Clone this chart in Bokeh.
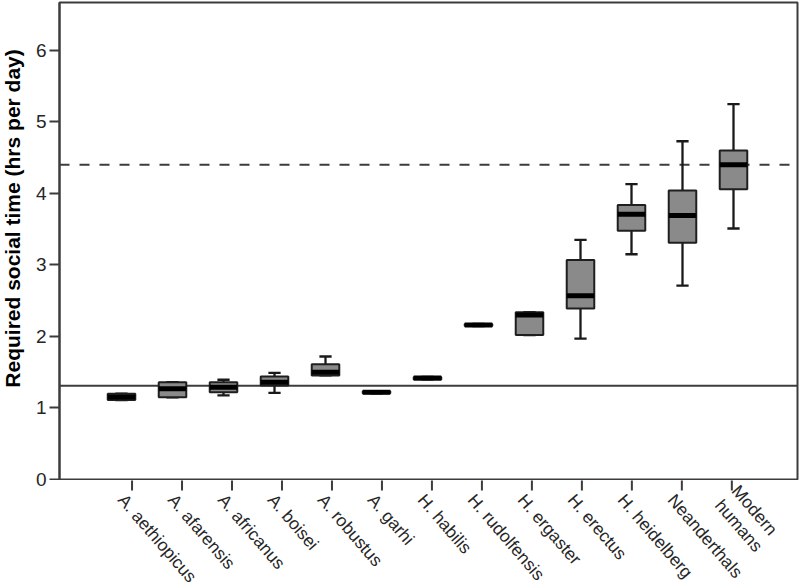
import numpy as np
from bokeh.plotting import figure
from bokeh.layouts import column, row
from bokeh.models import ColumnDataSource, FixedTicker, Span, Range1d
from bokeh.core.properties import value
from bokeh.embed import file_html
from bokeh.resources import INLINE

# ---- data ----
species = ["A. aethiopicus", "A. afarensis", "A. africanus", "A. boisei", "A. robustus",
           "A. garhi", "H. habilis", "H. rudolfensis", "H. ergaster", "H. erectus",
           "H. heidelberg", "Neanderthals", "Modern\nhumans"]
lower_whisker = [1.11, 1.15, 1.175, 1.21, 1.455, 1.205, 1.400, 2.145, 2.02, 1.97, 3.15, 2.71, 3.51]
q1 = [1.11, 1.15, 1.22, 1.315, 1.455, 1.205, 1.400, 2.145, 2.02, 2.39, 3.48, 3.31, 4.06]
median = [1.155, 1.27, 1.29, 1.36, 1.50, 1.22, 1.420, 2.16, 2.30, 2.57, 3.71, 3.69, 4.40]
q3 = [1.20, 1.36, 1.36, 1.44, 1.61, 1.235, 1.435, 2.175, 2.34, 3.07, 3.84, 4.04, 4.60]
upper_whisker = [1.20, 1.36, 1.395, 1.49, 1.72, 1.235, 1.435, 2.175, 2.34, 3.35, 4.13, 4.73, 5.25]
ancestral_level = 1.31
modern_level = 4.40
y_ticks = [0, 1, 2, 3, 4, 5, 6]
y_title = "Required social time (hrs per day)"
y_title_center = 3.65

# ---- styling / layout ----
BOX_W = 0.54
CAP_W = 0.24
FONT = "Liberation Sans"
AX_COL = "#3c3c3c"
TXT_COL = "#262626"
TOTAL_W, TOTAL_H = 800, 584
LEFT_W = 47                # strip: y title + y tick labels
MAIN_W = TOTAL_W - LEFT_W
B_LEFT, B_RIGHT, B_TOP, B_BOT = 12, 3, 2, 1
MAIN_H = 480
X0, X1 = -0.216, 14.255
Y0, Y1 = 0, 6.67
TICK_LEN = 11

frame_w = MAIN_W - B_LEFT - B_RIGHT
frame_h = MAIN_H - B_TOP - B_BOT
sx = frame_w / (X1 - X0)
sy = frame_h / (Y1 - Y0)
lab_h = TOTAL_H - MAIN_H

pos = np.arange(1, len(species) + 1)
src = ColumnDataSource(dict(
    x=pos, lo=lower_whisker, q1=q1, med=median, q3=q3, hi=upper_whisker,
    left=pos - BOX_W / 2, right=pos + BOX_W / 2,
    cl=pos - CAP_W / 2, cr=pos + CAP_W / 2,
    t0=[0] * len(species), t1=[-TICK_LEN] * len(species),
))
single = [i for i, s in enumerate(species) if "\n" not in s]
multi = [i for i, s in enumerate(species) if "\n" in s]
src_single = ColumnDataSource(dict(x=[pos[i] for i in single],
                                   y=[-TICK_LEN + 0.5] * len(single),
                                   name=[species[i] for i in single]))
src_multi = ColumnDataSource(dict(x=[pos[i] for i in multi],
                                  y=[-TICK_LEN + 9.4] * len(multi),
                                  name=[species[i] for i in multi]))

# ---------------- main plot ----------------
p = figure(width=MAIN_W, height=MAIN_H, output_backend="svg", toolbar_location=None,
           x_range=Range1d(X0, X1), y_range=Range1d(Y0, Y1),
           min_border_left=B_LEFT, min_border_right=B_RIGHT,
           min_border_top=B_TOP, min_border_bottom=B_BOT)
p.xgrid.visible = False
p.ygrid.visible = False
p.outline_line_color = AX_COL
p.outline_line_width = 2
p.border_fill_color = "white"
p.xaxis.visible = False

p.add_layout(Span(location=ancestral_level, dimension="width", line_color=AX_COL,
                  line_width=2, level="underlay"))
p.add_layout(Span(location=modern_level, dimension="width", line_color=AX_COL,
                  line_width=2, line_dash="10 10", level="underlay"))

WH = "#1a1a1a"
p.segment(x0="x", y0="q3", x1="x", y1="hi", source=src, line_color=WH, line_width=2.3)
p.segment(x0="x", y0="q1", x1="x", y1="lo", source=src, line_color=WH, line_width=2.3)
p.segment(x0="cl", y0="hi", x1="cr", y1="hi", source=src, line_color=WH, line_width=2.3)
p.segment(x0="cl", y0="lo", x1="cr", y1="lo", source=src, line_color=WH, line_width=2.3)

p.vbar(x="x", width=BOX_W, bottom="q1", top="q3", source=src,
       fill_color="#8a8a8a", line_color="#1f1f1f", line_width=2)
p.segment(x0="left", y0="med", x1="right", y1="med", source=src,
          line_color="black", line_width=5, line_cap="butt")

ax = p.yaxis[0]
ax.axis_line_color = AX_COL
ax.axis_line_width = 2
ax.major_tick_line_color = AX_COL
ax.major_tick_line_width = 2
ax.major_tick_out = 10
ax.major_tick_in = 0
ax.minor_tick_line_color = None
ax.ticker = FixedTicker(ticks=y_ticks)
ax.major_label_text_font_size = "0px"
ax.major_label_standoff = 0

# ---------------- category axis strip (ticks + rotated labels) ----------------
p2 = figure(width=MAIN_W, height=lab_h, output_backend="svg", toolbar_location=None,
            x_range=Range1d(X0 - B_LEFT / sx, X1 + B_RIGHT / sx),
            y_range=Range1d(-(lab_h + 1), -1),
            x_axis_type=None, y_axis_type=None,
            min_border_left=0, min_border_right=0, min_border_top=0, min_border_bottom=0)
p2.outline_line_color = None
p2.xgrid.visible = False
p2.ygrid.visible = False
p2.segment(x0="x", y0="t0", x1="x", y1="t1", source=src, line_color=AX_COL, line_width=2)
p2.text(x="x", y="y", text="name", source=src_single, angle=-0.86, x_offset=-3,
        text_align="left", text_baseline="top", text_font=value(FONT),
        text_font_size="17.5px", text_color=TXT_COL)
p2.text(x="x", y="y", text="name", source=src_multi, angle=-0.86, x_offset=11,
        text_align="left", text_baseline="top", text_font=value(FONT),
        text_font_size="17.5px", text_color=TXT_COL, text_line_height=1.1)

# ---------------- left strip: y title + y tick labels ----------------
p3 = figure(width=LEFT_W, height=TOTAL_H, output_backend="svg", toolbar_location=None,
            x_range=Range1d(0, LEFT_W),
            y_range=Range1d(Y0 - (lab_h + B_BOT) / sy, Y1 + B_TOP / sy),
            x_axis_type=None, y_axis_type=None,
            min_border_left=0, min_border_right=0, min_border_top=0, min_border_bottom=0)
p3.outline_line_color = None
p3.xgrid.visible = False
p3.ygrid.visible = False
p3.text(x=[12], y=[y_title_center], text=[y_title], angle=np.pi / 2,
        text_align="center", text_baseline="middle", text_font=value(FONT),
        text_font_size="21px", text_font_style="bold", text_color="black")
p3.text(x=[LEFT_W - 1] * len(y_ticks), y=y_ticks, text=[str(t) for t in y_ticks],
        text_align="right", text_baseline="middle", text_font=value(FONT),
        text_font_size="19px", text_color=TXT_COL)

layout = row(p3, column(p, p2, spacing=0), spacing=0)
open("out.html", "w").write(file_html(layout, INLINE))
